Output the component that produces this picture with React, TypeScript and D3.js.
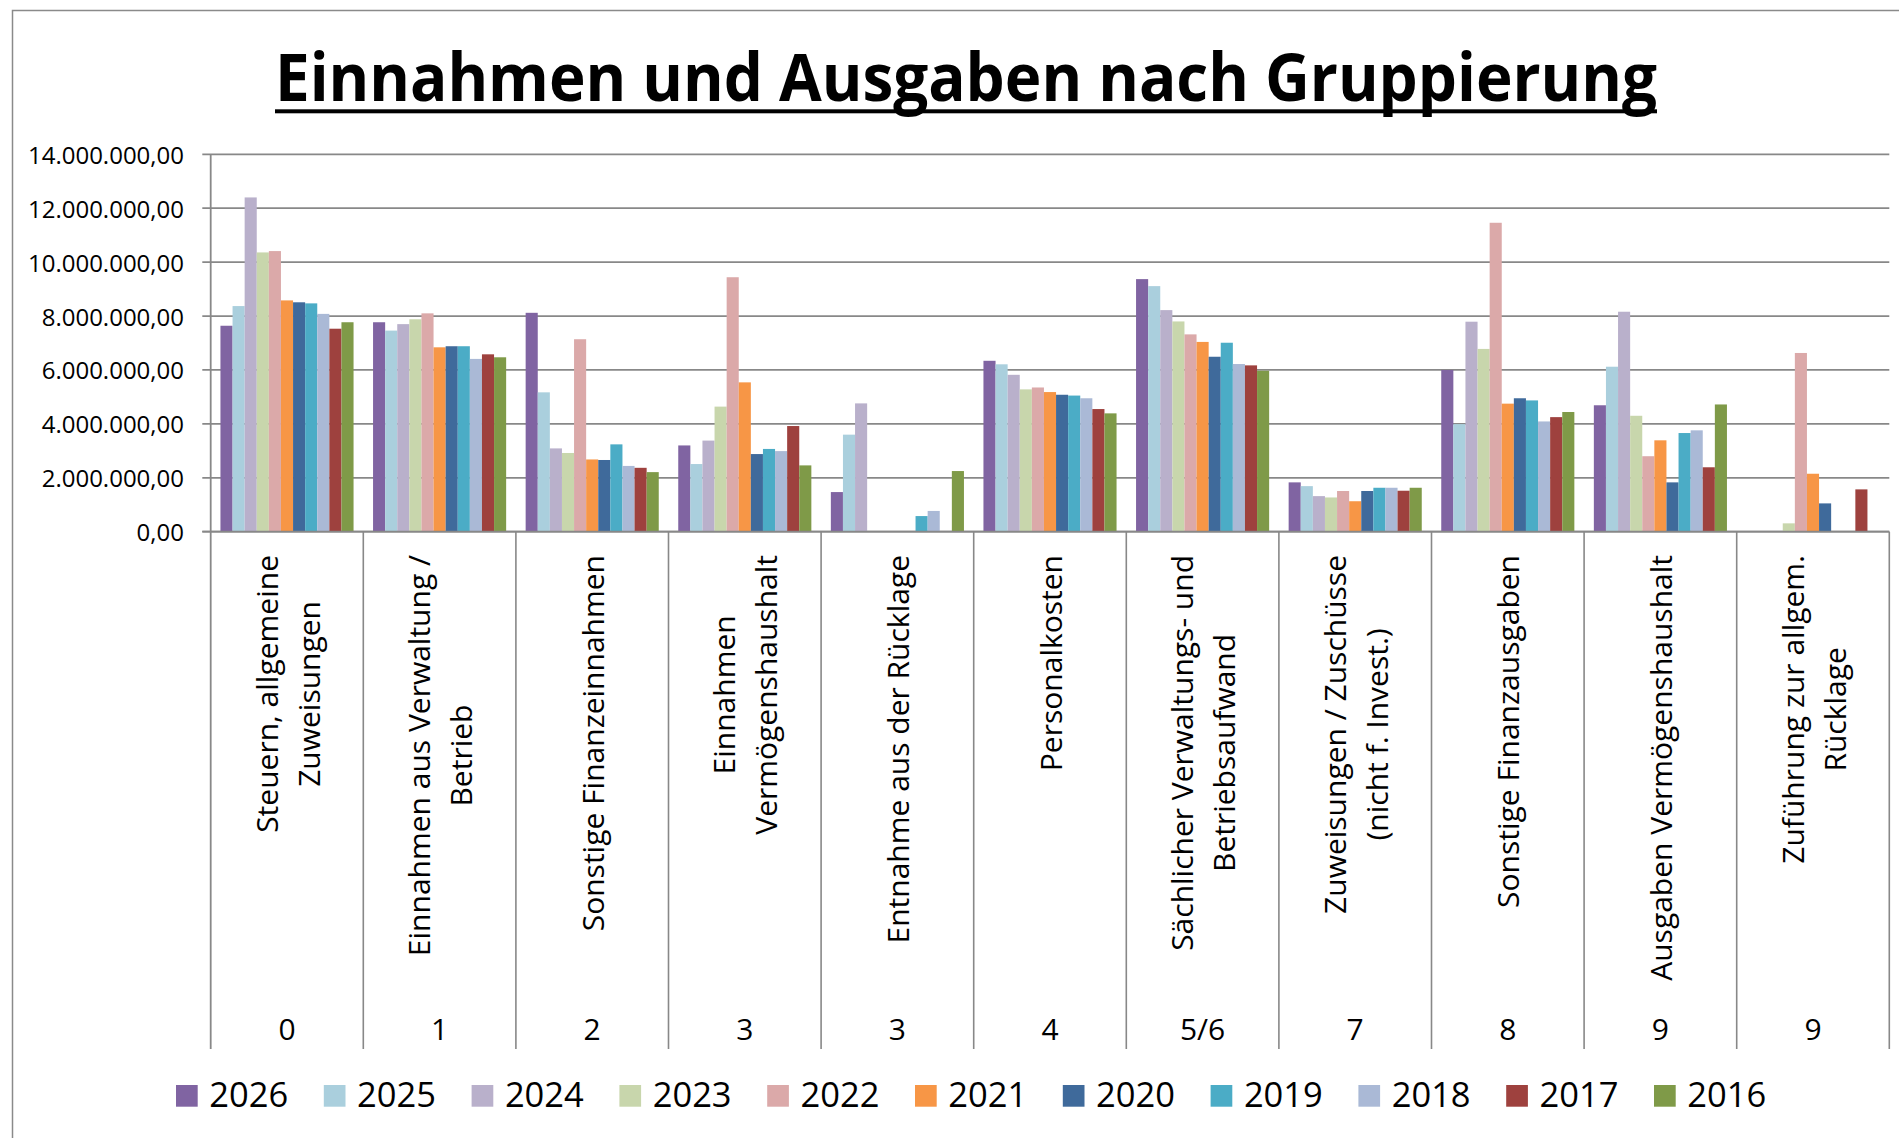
import React from 'react';
import * as d3 from 'd3';

// ---------- data ----------
const categoryLines: string[][] = [
  ['Steuern, allgemeine', 'Zuweisungen'],
  ['Einnahmen aus Verwaltung /', 'Betrieb'],
  ['Sonstige Finanzeinnahmen'],
  ['Einnahmen', 'Vermögenshaushalt'],
  ['Entnahme aus der Rücklage'],
  ['Personalkosten'],
  ['Sächlicher Verwaltungs- und', 'Betriebsaufwand'],
  ['Zuweisungen / Zuschüsse', '(nicht f. Invest.)'],
  ['Sonstige Finanzausgaben'],
  ['Ausgaben Vermögenshaushalt'],
  ['Zuführung zur allgem.', 'Rücklage'],
];
const groupCodes = ['0', '1', '2', '3', '3', '4', '5/6', '7', '8', '9', '9'];
const years = ['2026', '2025', '2024', '2023', '2022', '2021', '2020', '2019', '2018', '2017', '2016'];

const v2026 = [7640000, 7770000, 8120000, 3200000, 1470000, 6340000, 9370000, 1830000, 6000000, 4690000, 0];
const v2025 = [8370000, 7460000, 5170000, 2510000, 3600000, 6210000, 9110000, 1690000, 3990000, 6120000, 0];
const v2024 = [12400000, 7700000, 3090000, 3380000, 4760000, 5820000, 8220000, 1320000, 7790000, 8160000, 0];
const v2023 = [10360000, 7880000, 2920000, 4640000, 0, 5280000, 7800000, 1270000, 6780000, 4300000, 310000];
const v2022 = [10410000, 8100000, 7140000, 9440000, 0, 5350000, 7320000, 1510000, 11460000, 2800000, 6630000];
const v2021 = [8580000, 6840000, 2680000, 5540000, 0, 5180000, 7040000, 1130000, 4750000, 3390000, 2150000];
const v2020 = [8510000, 6880000, 2660000, 2880000, 0, 5080000, 6490000, 1510000, 4950000, 1830000, 1050000];
const v2019 = [8470000, 6880000, 3240000, 3070000, 580000, 5050000, 7010000, 1630000, 4870000, 3660000, 0];
const v2018 = [8080000, 6410000, 2440000, 2990000, 770000, 4950000, 6220000, 1630000, 4090000, 3760000, 0];
const v2017 = [7530000, 6580000, 2370000, 3920000, 20000, 4550000, 6170000, 1520000, 4250000, 2390000, 1570000];
const v2016 = [7770000, 6470000, 2210000, 2460000, 2250000, 4390000, 5970000, 1630000, 4440000, 4720000, 0];

const seriesValues = [v2026, v2025, v2024, v2023, v2022, v2021, v2020, v2019, v2018, v2017, v2016];

const colors = ['#8064A2', '#AACFDD', '#B9B0CB', '#C8D6AC', '#DBA9A9', '#F79646', '#3F6A9B', '#4BACC6', '#AAB9D6', '#9E413E', '#7F9A48'];

const titleText = 'Einnahmen und Ausgaben nach Gruppierung';
const yMax = 14000000;

// ---------- layout ----------
const W = 1899;
const H = 1138;
const plotLeft = 210.7;
const plotRight = 1889.3;
const plotTop = 154.3;
const plotBottom = 531.7;
const axisBottom = 1049;
const groupGap = 19.5;
const FONT = '"Open Sans", "Noto Sans", sans-serif';
const gridColor = '#888888';

const locale = d3.formatLocale({ decimal: ',', thousands: '.', grouping: [3], currency: ['', ' €'] });
const fmt = locale.format(',.2f');

let ctx: CanvasRenderingContext2D | null = null;
function measure(text: string, font: string): number {
  if (!ctx) ctx = document.createElement('canvas').getContext('2d');
  if (!ctx) return text.length * 15;
  ctx.font = font;
  return ctx.measureText(text).width;
}

export default function App() {
  const idx = d3.range(categoryLines.length);
  const x0 = d3.scaleBand<number>().domain(idx).range([plotLeft, plotRight]).paddingInner(0).paddingOuter(0);
  const bw = x0.bandwidth();
  const x1 = d3.scaleBand<string>().domain(years).range([groupGap / 2, bw - groupGap / 2]).padding(0);
  const y = d3.scaleLinear().domain([0, yMax]).range([plotBottom, plotTop]);
  const ticks = y.ticks(7);

  const labelFontSize = 30;
  const labelFont = `${labelFontSize}px "Open Sans"`;
  const lineGap = 42;
  const labelTop = 555;

  return (
    <svg
      width={W}
      height={H}
      style={{ position: 'absolute', left: 0, top: 0, display: 'block', background: '#fff' }}
      fontFamily={FONT}
    >
      <rect x={0} y={0} width={W} height={H} fill="#fff" />
      {/* chart border */}
      <rect x={12.5} y={10.5} width={2000} height={1400} fill="none" stroke="#8a8a8a" strokeWidth={1.5} />

      {/* title */}
      <text
        x={275}
        y={101}
        fontSize={67}
        fontWeight={700}
        fill="#000"
        textLength={1382}
        lengthAdjust="spacingAndGlyphs"
      >
        {titleText}
      </text>
      <rect x={275} y={109.3} width={1382} height={4} fill="#000" />

      {/* gridlines + y ticks */}
      {ticks.map((t) => (
        <g key={t}>
          <line x1={202.3} x2={plotRight} y1={y(t)} y2={y(t)} stroke={gridColor} strokeWidth={1.8} />
          <text x={184} y={y(t)} fontSize={24} textAnchor="end" dominantBaseline="central" fill="#000">
            {fmt(t)}
          </text>
        </g>
      ))}

      {/* bars */}
      {seriesValues.map((vals, s) => (
        <g key={years[s]} fill={colors[s]}>
          {vals.map((v, i) =>
            v > 0 ? (
              <rect
                key={i}
                x={(x0(i) as number) + (x1(years[s]) as number)}
                y={y(v)}
                width={x1.bandwidth()}
                height={plotBottom - y(v)}
              />
            ) : null
          )}
        </g>
      ))}

      {/* axes */}
      <line x1={plotLeft} x2={plotLeft} y1={plotTop} y2={axisBottom} stroke={gridColor} strokeWidth={1.8} />
      <line x1={202.3} x2={plotRight} y1={plotBottom} y2={plotBottom} stroke={gridColor} strokeWidth={1.8} />
      {idx.map((i) => (
        <line
          key={i}
          x1={(x0(i) as number) + bw}
          x2={(x0(i) as number) + bw}
          y1={plotBottom}
          y2={axisBottom}
          stroke={gridColor}
          strokeWidth={1.6}
        />
      ))}

      {/* category labels */}
      {categoryLines.map((lines, i) => {
        const cx = (x0(i) as number) + bw / 2;
        const maxLen = d3.max(lines, (l) => measure(l, labelFont)) || 0;
        const cy = labelTop + maxLen / 2;
        return (
          <g key={i}>
            {lines.map((l, k) => {
              const off = (k - (lines.length - 1) / 2) * lineGap;
              return (
                <text
                  key={k}
                  transform={`translate(${cx + off},${cy}) rotate(-90)`}
                  textAnchor="middle"
                  dominantBaseline="central"
                  fontSize={labelFontSize}
                  fill="#000"
                >
                  {l}
                </text>
              );
            })}
            <text x={cx} y={1040} textAnchor="middle" fontSize={labelFontSize} fill="#000">
              {groupCodes[i]}
            </text>
          </g>
        );
      })}

      {/* legend */}
      {years.map((yr, s) => {
        const lx = 176 + s * 147.8;
        return (
          <g key={yr}>
            <rect x={lx} y={1085} width={21.7} height={21.7} fill={colors[s]} />
            <text x={lx + 33.3} y={1106.7} fontSize={34.5} fill="#000">
              {yr}
            </text>
          </g>
        );
      })}
    </svg>
  );
}
